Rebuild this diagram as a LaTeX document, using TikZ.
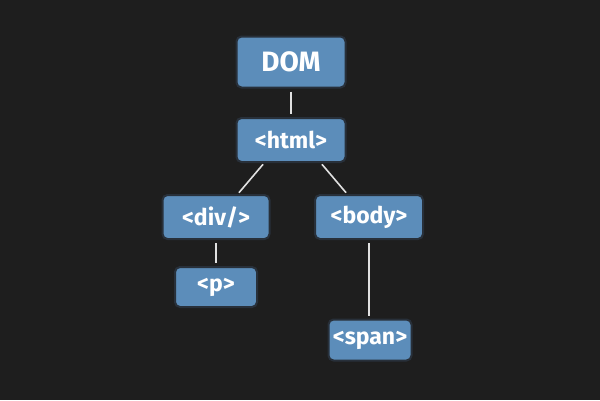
\documentclass[tikz,border=0pt]{standalone}
\usepackage{fontspec}
\setmainfont{Fira Sans}
\definecolor{bg}{RGB}{30,30,30}
\definecolor{nodeblue}{RGB}{92,141,186}
\definecolor{linkc}{RGB}{225,225,225}
\definecolor{edge}{RGB}{40,48,58}
\begin{document}
\begin{tikzpicture}[x=1pt,y=-1pt,
  box/.style={draw=edge,line width=2pt,fill=nodeblue,rounded corners=5pt,text=white,font=\bfseries\fontsize{23}{26}\selectfont,inner sep=0pt,anchor=center},
  link/.style={draw=linkc,line width=1.6pt,shorten <=3pt,shorten >=3pt}]
\fill[bg] (0,0) rectangle (600,400);
\useasboundingbox (0,0) rectangle (600,400);
\node[box,minimum width=109pt,minimum height=51pt,font=\bfseries\fontsize{28}{31}\selectfont] (dom) at (291,62) {DOM};
\node[box,minimum width=109pt,minimum height=44pt] (html) at (291,140) {<html>};
\node[box,minimum width=107pt,minimum height=44pt] (div) at (216,217) {<div/>};
\node[box,minimum width=108pt,minimum height=44pt] (body) at (369,217) {<body>};
\node[box,minimum width=82pt,minimum height=40pt] (p) at (216,287) {<p>};
\node[box,minimum width=83pt,minimum height=41pt] (span) at (370,340) {<span>};
\draw[link] (dom) -- (html);
\draw[link] (265,162) -- (237,195);
\draw[link] (320,162) -- (348,195);
\draw[link] (div.south) -- (p.north);
\draw[link] (body.south) -- (body.south |- span.north);
\end{tikzpicture}
\end{document}
